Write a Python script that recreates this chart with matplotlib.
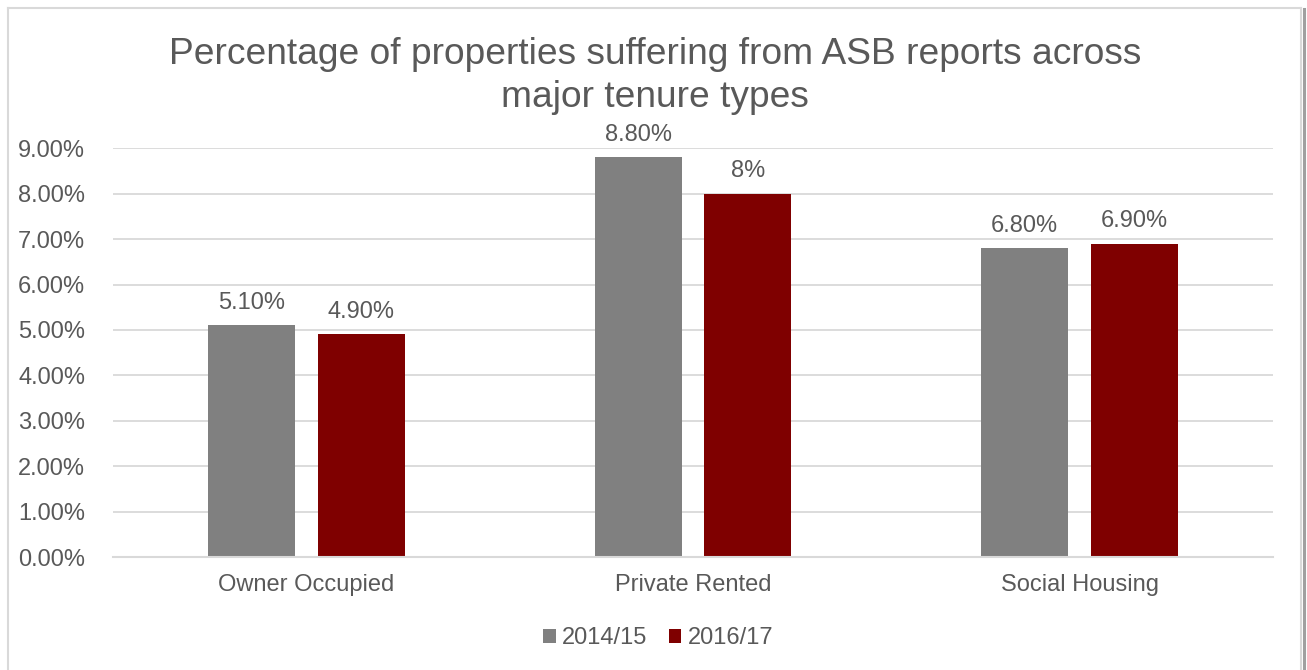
import matplotlib
matplotlib.use("Agg")
import matplotlib.pyplot as plt
import numpy as np
from matplotlib.lines import Line2D
from matplotlib.ticker import FuncFormatter

plt.rcParams['font.family'] = ['Liberation Sans', 'DejaVu Sans']

categories = ["Owner Occupied", "Private Rented", "Social Housing"]
series_names = ["2014/15", "2016/17"]
values_2014 = [0.051, 0.088, 0.068]
values_2016 = [0.049, 0.080, 0.069]
labels_2014 = ["5.10%", "8.80%", "6.80%"]
labels_2016 = ["4.90%", "8%", "6.90%"]
title = "Percentage of properties suffering from ASB reports across\nmajor tenure types"

W, H = 1307, 670
fig = plt.figure(figsize=(W / 100, H / 100), dpi=100)
fig.patch.set_facecolor("white")

ax = fig.add_axes([113 / W, 1 - 557 / H, (1273 - 113) / W, (557 - 148.3) / H])

text_color = "#595959"
grid_color = "#D9D9D9"
colors = ["#808080", "#7F0000"]
fs = 17

x = np.arange(len(categories))
bw = 0.225
off = 0.142
b1 = ax.bar(x - off, values_2014, bw, color=colors[0], label=series_names[0], zorder=3)
b2 = ax.bar(x + off, values_2016, bw, color=colors[1], label=series_names[1], zorder=3)

for bars, labs in ((b1, labels_2014), (b2, labels_2016)):
    for rect, lab in zip(bars, labs):
        ax.annotate(lab, (rect.get_x() + rect.get_width() / 2, rect.get_height()),
                    xytext=(0, 12.0), textcoords="offset points",
                    ha="center", va="baseline", fontsize=fs, color=text_color)

ax.set_xlim(-0.5, 2.5)
ax.set_ylim(0, 0.09)
ax.set_yticks(np.arange(0, 0.0901, 0.01))
ax.yaxis.set_major_formatter(FuncFormatter(lambda v, p: f"{v*100:.2f}%"))
ax.set_xticks(x)
ax.set_xticklabels(categories)
ax.tick_params(axis="both", length=0, labelsize=fs, labelcolor=text_color)
ax.tick_params(axis="x", pad=12)
ax.tick_params(axis="y", pad=20)
ax.grid(axis="y", color=grid_color, linewidth=1.3, zorder=0)
for s in ["top", "right", "left"]:
    ax.spines[s].set_visible(False)
ax.spines["bottom"].set_color(grid_color)
ax.spines["bottom"].set_linewidth(1.5)
ax.spines["bottom"].set_zorder(4)

title_baselines = [64, 107]
for line, yb in zip(title.split("\n"), title_baselines):
    fig.text(655 / W, 1 - yb / H, line, ha="center", va="baseline", fontsize=26.7,
             color=text_color)

leg = fig.legend(handles=[b1, b2], labels=series_names, loc="center",
                 bbox_to_anchor=(658 / W, 1 - 638 / H), ncol=2, frameon=False,
                 fontsize=fs, handlelength=0.55, handleheight=0.55,
                 handletextpad=0.25, columnspacing=0.9, borderpad=0)
for t in leg.get_texts():
    t.set_color(text_color)

# chart border
fig.add_artist(Line2D([8 / W, 8 / W], [0, 1 - 8 / H], transform=fig.transFigure,
                      color=grid_color, linewidth=1.5))
fig.add_artist(Line2D([8 / W, 1301 / W], [1 - 8 / H, 1 - 8 / H], transform=fig.transFigure,
                      color=grid_color, linewidth=1.5))
fig.add_artist(Line2D([1301 / W, 1301 / W], [0, 1 - 8 / H], transform=fig.transFigure,
                      color=grid_color, linewidth=1.5))
fig.add_artist(Line2D([1303.5 / W, 1303.5 / W], [0, 1 - 9 / H], transform=fig.transFigure,
                      color="#A0A0A0", linewidth=2.2))

fig.savefig("out.png", dpi=100)
